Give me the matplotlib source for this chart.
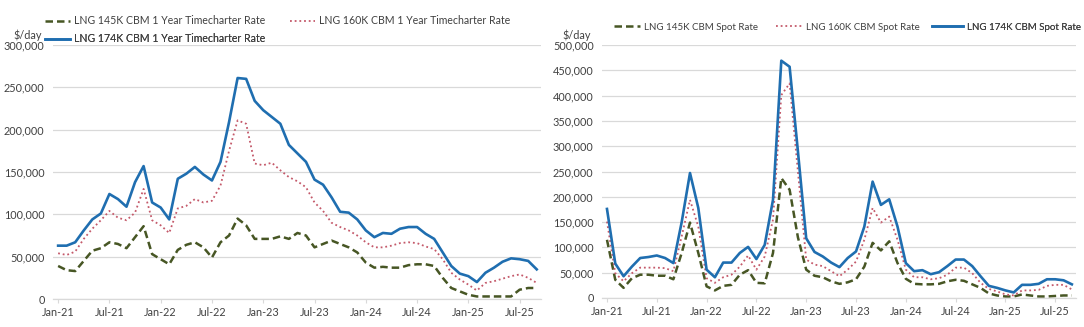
import numpy as np
import matplotlib.pyplot as plt

plt.rcParams['font.family'] = ['Lato', 'DejaVu Sans']

# month labels on the x axis (every 6 months, starting Jan-21)
tick_labels = ["Jan-21", "Jul-21", "Jan-22", "Jul-22", "Jan-23",
               "Jul-23", "Jan-24", "Jul-24", "Jan-25", "Jul-25"]

# 1 year timecharter rates, $/day (thousands), monthly from Jan-21
tc_145 = [39, 34, 33, 45, 57, 60, 67, 65, 60, 73, 86, 53, 47, 41, 58, 64, 67, 61, 49, 67,
          75, 95, 87, 71, 71, 71, 74, 71, 78, 75, 61, 65, 69, 65, 61, 55, 43, 37, 38, 37,
          37, 40, 41, 41, 39, 25, 13, 9, 5, 3, 3, 3, 3, 3, 11, 13, 13]
tc_160 = [54, 52, 56, 71, 83, 93, 104, 96, 93, 102, 130, 93, 87, 78, 107, 110, 118, 114, 116, 134,
          175, 211, 207, 160, 158, 161, 152, 144, 139, 132, 114, 104, 90, 85, 81, 75, 67, 61, 61, 63,
          66, 67, 66, 62, 59, 47, 31, 23, 17, 10, 19, 21, 24, 27, 29, 25, 19]
tc_174 = [63, 63, 67, 81, 94, 101, 124, 118, 109, 138, 157, 114, 108, 94, 142, 148, 156, 147, 140, 162,
          209, 261, 260, 234, 223, 215, 207, 182, 172, 162, 141, 135, 120, 103, 102, 94, 81, 73, 78, 77,
          83, 85, 85, 77, 71, 55, 39, 30, 27, 20, 31, 37, 44, 48, 47, 45, 35]

# spot rates, $/day (thousands)
spot_145 = [115, 36, 20, 39, 46, 46, 44, 44, 37, 89, 149, 89, 23, 15, 24, 26, 46, 55, 30, 29,
            89, 237, 214, 120, 56, 44, 41, 33, 28, 31, 37, 62, 109, 94, 112, 69, 38, 28, 27, 27,
            28, 33, 36, 34, 27, 20, 9, 5, 3, 3, 7, 5, 3, 3, 4, 5, 5]
spot_160 = [151, 49, 33, 49, 60, 60, 60, 59, 53, 122, 194, 141, 39, 30, 41, 46, 62, 84, 56, 82,
            155, 401, 424, 250, 76, 66, 63, 53, 43, 56, 72, 115, 178, 149, 161, 115, 56, 41, 41, 37,
            39, 46, 60, 60, 49, 30, 18, 13, 7, 5, 15, 15, 16, 24, 26, 26, 17]
spot_174 = [176, 68, 43, 62, 79, 81, 84, 79, 69, 150, 247, 178, 56, 41, 70, 70, 89, 101, 77, 105,
            194, 469, 457, 290, 118, 91, 82, 70, 61, 79, 92, 141, 230, 184, 195, 141, 69, 53, 55, 47,
            51, 63, 76, 76, 63, 43, 24, 20, 15, 11, 26, 26, 28, 37, 37, 35, 27]

tc_names = ["LNG 145K CBM 1 Year Timecharter Rate", "LNG 160K CBM 1 Year Timecharter Rate",
            "LNG 174K CBM 1 Year Timecharter Rate"]
spot_names = ["LNG 145K CBM Spot Rate", "LNG 160K CBM Spot Rate", "LNG 174K CBM Spot Rate"]

GREEN = "#475624"
PINK = "#C4596A"
BLUE = "#1F6EB0"
GRID = "#D9D9D9"
TXT = "#404040"

fig = plt.figure(figsize=(10.84, 3.27), dpi=100)
W, H = 1084, 327


def add_ax(x0, x1, ytop, ybot):
    return fig.add_axes([x0 / W, 1 - ybot / H, (x1 - x0) / W, (ybot - ytop) / H])


def style(ax, ymax, n):
    ax.set_ylim(0, ymax)
    ax.set_yticks(np.arange(0, ymax + 1, 50000))
    ax.yaxis.set_major_formatter(plt.FuncFormatter(lambda v, p: f"{int(v):,}"))
    ax.set_xticks(np.arange(0, n, 6))
    ax.set_xticklabels(tick_labels)
    ax.grid(axis='y', color=GRID, lw=0.9)
    ax.set_axisbelow(True)
    for s in ['top', 'right', 'left']:
        ax.spines[s].set_visible(False)
    ax.spines['bottom'].set_color(GRID)
    ax.spines['bottom'].set_linewidth(0.9)
    ax.tick_params(axis='y', length=0, pad=6, labelsize=7.8, labelcolor=TXT)
    ax.tick_params(axis='x', length=3, color=GRID, pad=3, labelsize=7.8, labelcolor=TXT)


def draw(ax, a, b, c, names):
    x = np.arange(len(a))
    h1, = ax.plot(x, np.array(a) * 1000, color=GREEN, lw=1.8, dashes=(3, 1.6), label=names[0])
    h2, = ax.plot(x, np.array(b) * 1000, color=PINK, lw=1.3, dashes=(1, 1.6), label=names[1])
    h3, = ax.plot(x, np.array(c) * 1000, color=BLUE, lw=1.9, label=names[2])
    return [h1, h2, h3]


def entry(ax, h, px, py, fs, hl=2.3):
    # one legend entry placed at pixel position (left of handle, centre line)
    lg = ax.legend(handles=[h], frameon=False, fontsize=fs, loc='center left',
                   bbox_to_anchor=(px / W, 1 - py / H), bbox_transform=fig.transFigure,
                   borderpad=0, borderaxespad=0, handlelength=hl, handletextpad=0.35,
                   labelcolor=TXT)
    ax.add_artist(lg)


n = len(tc_174)
ax1 = add_ax(53, 541, 45, 299)
hs1 = draw(ax1, tc_145, tc_160, tc_174, tc_names)
style(ax1, 300000, n)
ax1.set_xlim(-0.6, n - 1 + 0.5)
entry(ax1, hs1[0], 45, 21, 7.6, hl=2.4)
entry(ax1, hs1[1], 290, 21, 7.6, hl=2.4)
entry(ax1, hs1[2], 45, 39, 7.6, hl=2.4)
fig.text(28 / W, 1 - 35 / H, "$/day", ha='center', va='center', fontsize=7.8, color=TXT)

m = len(spot_174)
ax2 = add_ax(602, 1076, 45, 298)
hs2 = draw(ax2, spot_145, spot_160, spot_174, spot_names)
style(ax2, 500000, m)
ax2.set_xlim(-0.6, m - 1 + 0.5)
entry(ax2, hs2[0], 614, 27, 7.0, hl=2.7)
entry(ax2, hs2[1], 776, 27, 7.0, hl=2.7)
entry(ax2, hs2[2], 932, 27, 7.0, hl=3.2)
fig.text(577 / W, 1 - 35 / H, "$/day", ha='center', va='center', fontsize=7.8, color=TXT)

fig.savefig("out.png", dpi=100, facecolor='white')
